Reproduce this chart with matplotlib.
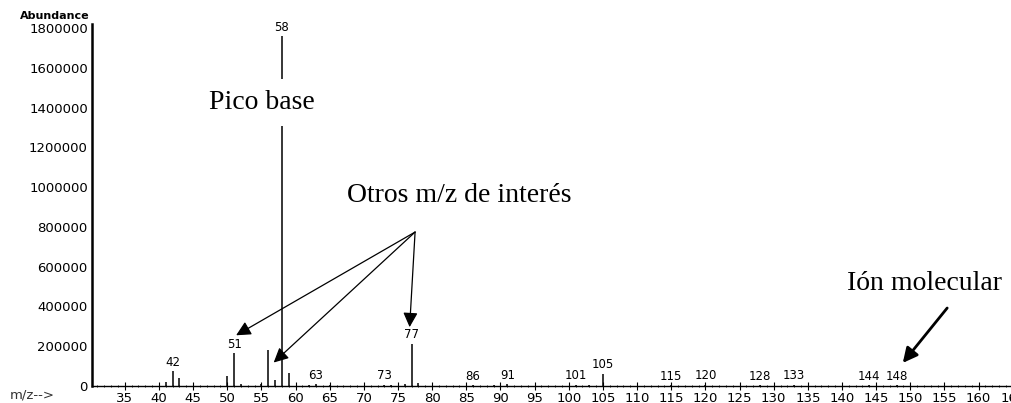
import numpy as np
import matplotlib.pyplot as plt
from matplotlib.ticker import MultipleLocator

# mass spectrum peaks (m/z, abundance)
mz = [41, 42, 43, 50, 51, 52, 55, 56, 57, 58, 59, 62, 63, 65, 73, 74, 76, 77, 78,
      86, 89, 91, 101, 103, 105, 115, 120, 128, 133, 144, 148]
abund = [18000, 75000, 42000, 50000, 165000, 8000, 10000, 182000, 32000, 1760000, 65000,
         6000, 9000, 5000, 7000, 5000, 12000, 212000, 14000,
         5000, 4000, 9000, 6000, 4000, 62000, 5000, 6000, 5000, 7000, 4000, 5000]

# peaks that carry a m/z label
labelled = [42, 51, 58, 63, 73, 77, 86, 91, 101, 105, 115, 120, 128, 133, 144, 148]

yticks = [0, 200000, 400000, 600000, 800000, 1000000, 1200000, 1400000, 1600000, 1800000]
xticks = list(range(35, 170, 5))

fig = plt.figure(figsize=(10.12, 4.03), dpi=100)
ax = fig.add_axes([92/1012, 17/403, 931/1012, 362/403])

ax.vlines(mz, 0, abund, colors='black', lw=1.1)
for m, a in zip(mz, abund):
    if m in labelled:
        ax.text(m, a + 12000, str(m), ha='center', va='bottom', fontsize=8.5,
                family='DejaVu Sans', clip_on=False)

ax.set_xlim(30.2, 166.5)
ax.set_ylim(0, 1820000)
ax.set_xticks(xticks)
ax.xaxis.set_minor_locator(MultipleLocator(1))
ax.set_yticks(yticks)
ax.set_yticklabels([str(v) for v in yticks])
ax.tick_params(axis='x', direction='inout', length=6, width=0.8, labelsize=9.5, pad=1)
ax.tick_params(axis='x', which='minor', direction='inout', length=2, width=0.6)
ax.tick_params(axis='y', length=0, labelsize=9.5, pad=3)
for lab in ax.get_xticklabels() + ax.get_yticklabels():
    lab.set_family('DejaVu Sans')
for side in ['top', 'right']:
    ax.spines[side].set_visible(False)
ax.spines['left'].set_linewidth(1.8)
ax.spines['bottom'].set_linewidth(1.0)

fig.text(90/1012, 1 - 16/403, 'Abundance', ha='right', va='center', fontsize=8,
         weight='bold', family='DejaVu Sans')
fig.text(10/1012, 1 - 395/403, 'm/z-->', ha='left', va='center', fontsize=9.5,
         family='DejaVu Sans', color='#333333')

# annotations
serif = 'Liberation Serif'
ax.text(55.1, 1427000, 'Pico base', ha='center', va='center', fontsize=20, family=serif,
        bbox=dict(facecolor='white', edgecolor='none', pad=8))

ax.text(83.9, 960000, 'Otros m/z de interés', ha='center', va='center', fontsize=20,
        family=serif)
tail = (77.5, 774000)
for tip in [(51.3, 255000), (56.8, 118000), (76.7, 296000)]:
    ax.annotate('', xy=tip, xytext=tail,
                arrowprops=dict(arrowstyle='-|>', lw=0.9, color='black', mutation_scale=22,
                                shrinkA=0, shrinkB=0))

ax.text(152.1, 517000, 'Ión molecular', ha='center', va='center', fontsize=20, family=serif)
ax.annotate('', xy=(148.9, 116000), xytext=(155.4, 392000),
            arrowprops=dict(arrowstyle='-|>', lw=2, color='black', mutation_scale=22,
                            shrinkA=0, shrinkB=0))

fig.savefig('out.png', dpi=100)
